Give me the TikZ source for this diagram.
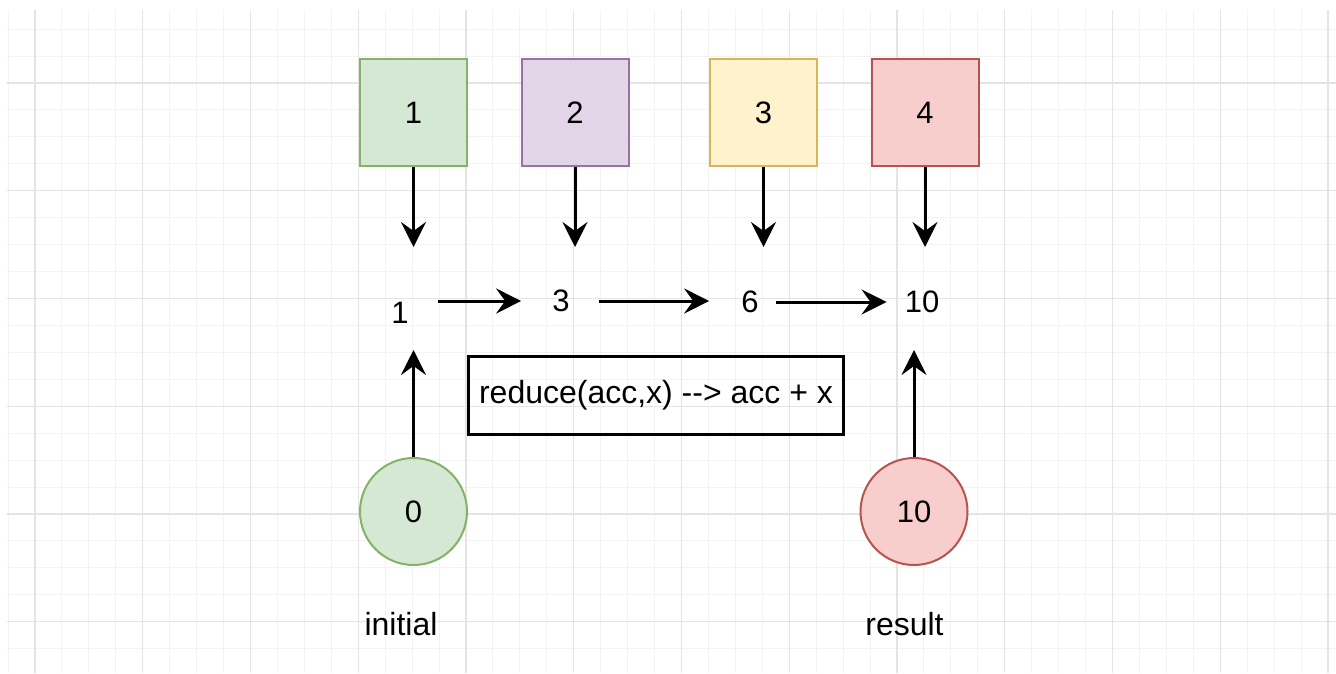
\documentclass[tikz,border=0pt]{standalone}
\usepackage{fontspec}
\setmainfont{Liberation Sans}
\usepackage{tikz}
\usetikzlibrary{arrows.meta}
\usetikzlibrary{calc}

\definecolor{greenfill}{HTML}{D5E8D4}
\definecolor{greenline}{HTML}{82B366}
\definecolor{purplefill}{HTML}{E1D5E7}
\definecolor{purpleline}{HTML}{9673A6}
\definecolor{yellowfill}{HTML}{FFF2CC}
\definecolor{yellowline}{HTML}{D6B656}
\definecolor{redfill}{HTML}{F8CECC}
\definecolor{redline}{HTML}{B85450}
\definecolor{minorgrid}{RGB}{243,243,243}
\definecolor{majorgrid}{RGB}{228,228,228}

\begin{document}
\begin{tikzpicture}[x=1pt, y=-1pt,
  item/.style={draw, line width=2pt, minimum size=107pt, inner sep=0pt, font=\fontsize{31}{36}\selectfont},
  ball/.style={circle, draw, line width=2pt, minimum size=107pt, inner sep=0pt, font=\fontsize{31}{36}\selectfont},
  num/.style={inner sep=0pt, font=\fontsize{31}{36}\selectfont},
  word/.style={inner sep=0pt, font=\fontsize{32}{38}\selectfont},
  arr/.style={line width=3pt, -{Stealth[length=25pt, width=25pt, inset=9pt]}}]
\useasboundingbox (0, 0) rectangle (1336, 673);
\fill[white] (0, 0) rectangle (1336, 673);
% background grid
\foreach \i in {-1,...,48} {
  \draw[minorgrid, line width=1pt] ({35+\i*26.9375}, 10) -- ({35+\i*26.9375}, 673);
}
\foreach \j in {-2,...,21} {
  \draw[minorgrid, line width=1pt] (7, {83+\j*26.9375}) -- (1336, {83+\j*26.9375});
}
\foreach \i in {0,4,...,48} {
  \draw[majorgrid, line width=1.2pt] ({35+\i*26.9375}, 10) -- ({35+\i*26.9375}, 673);
}
\foreach \j in {0,4,...,20} {
  \draw[majorgrid, line width=1.2pt] (7, {83+\j*26.9375}) -- (1336, {83+\j*26.9375});
}
% elements
\node[item, fill=greenfill, draw=greenline] (b1) at (413.5, 112.5) {1};
\node[item, fill=purplefill, draw=purpleline] (b2) at (575, 112.5) {2};
\node[item, fill=yellowfill, draw=yellowline] (b3) at (763.5, 112.5) {3};
\node[item, fill=redfill, draw=redline] (b4) at (925, 112.5) {4};
\node[num] (s1) at (400, 313) {1};
\node[num] (s3) at (561, 301) {3};
\node[num] (s6) at (750, 302) {6};
\node[num] (s10) at (922, 302) {10};
\node[draw, line width=2.7pt, minimum width=375pt, minimum height=78pt, inner sep=0pt,
  font=\fontsize{32}{38}\selectfont] (fn) at (656, 395.5) {reduce(acc,x) -{}-> acc + x};
\node[ball, fill=greenfill, draw=greenline] (init) at (413.5, 511.5) {0};
\node[ball, fill=redfill, draw=redline] (res) at (914, 511.5) {10};
\node[word, anchor=base] (linit) at (401, 635) {initial};
\node[word, anchor=base] (lres) at (904.5, 635) {result};
\coordinate (down) at (0, 247);
\coordinate (up) at (0, 350);
% arrows
\draw[arr] (b1.south) -- (b1 |- down);
\draw[arr] (b2.south) -- (b2 |- down);
\draw[arr] (b3.south) -- (b3 |- down);
\draw[arr] (b4.south) -- (b4 |- down);
\draw[arr, shorten <=29pt, shorten >=31pt] (s1.east |- s3) -- (s3.west);
\draw[arr, shorten <=29pt, shorten >=32pt] (s3.east) -- (s6.west |- s3);
\draw[arr, shorten <=17pt, shorten >=18pt] (s6.east) -- (s10.west);
\draw[arr] (init.north) -- (init |- up);
\draw[arr] (res.north) -- (res |- up);
\end{tikzpicture}
\end{document}
